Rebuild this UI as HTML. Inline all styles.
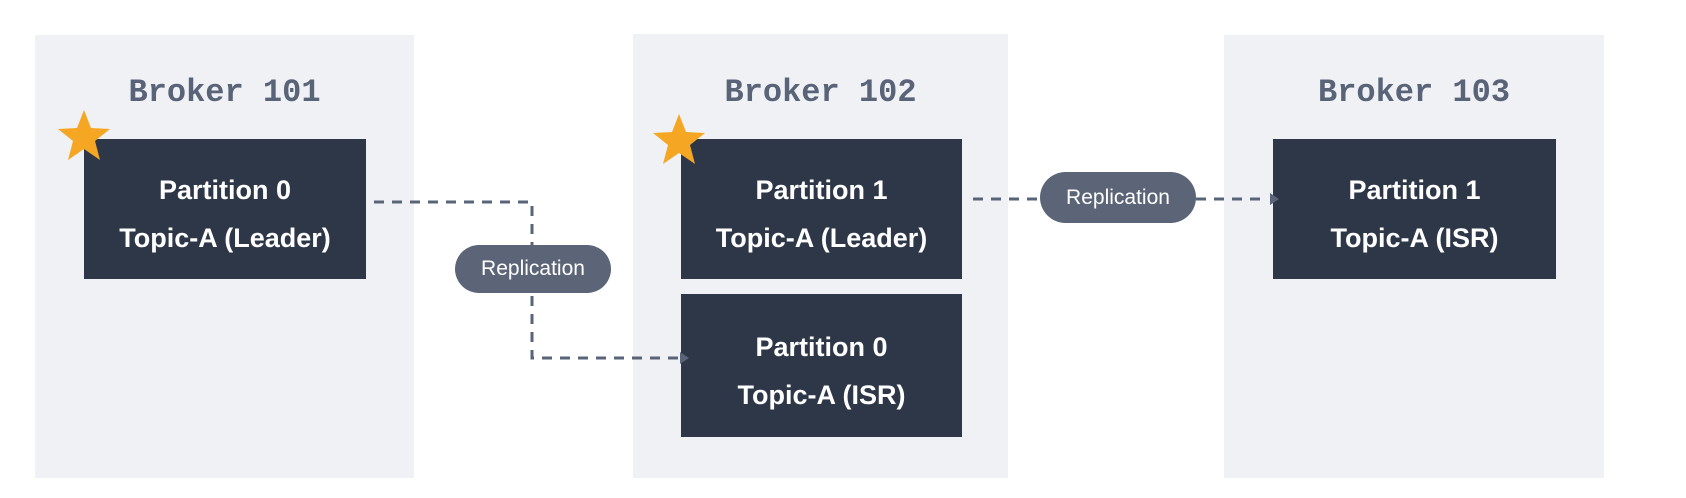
<!DOCTYPE html>
<html><head><style>
html,body{margin:0;padding:0;background:#fff;}
body{width:1686px;height:498px;position:relative;overflow:hidden;font-family:"Liberation Sans",sans-serif;}
.br{position:absolute;background:#f0f1f5;}
.t{position:absolute;font-family:"Liberation Mono",monospace;font-weight:bold;font-size:32px;color:#5a6478;text-align:center;}
.p{position:absolute;background:#2e3748;color:#fff;font-weight:bold;font-size:27px;text-align:center;line-height:48px;display:flex;flex-direction:column;justify-content:center;padding-top:10px;box-sizing:border-box;}
.pill{position:absolute;background:#5c6577;color:#fff;font-size:21px;border-radius:26px;display:flex;align-items:center;justify-content:center;}
</style></head><body>
<div class="br" style="left:35px;top:35px;width:379px;height:443px"></div>
<div class="br" style="left:633px;top:34px;width:375px;height:444px"></div>
<div class="br" style="left:1224px;top:35px;width:380px;height:443px"></div>
<div class="t" style="left:35px;top:74px;width:379px">Broker 101</div>
<div class="t" style="left:633px;top:74px;width:375px">Broker 102</div>
<div class="t" style="left:1224px;top:74px;width:380px">Broker 103</div>
<div class="p" style="left:84px;top:139px;width:282px;height:140px"><div>Partition 0</div><div>Topic-A (Leader)</div></div>
<div class="p" style="left:681px;top:139px;width:281px;height:140px"><div>Partition 1</div><div>Topic-A (Leader)</div></div>
<div class="p" style="left:681px;top:294px;width:281px;height:143px"><div>Partition 0</div><div>Topic-A (ISR)</div></div>
<div class="p" style="left:1273px;top:139px;width:283px;height:140px"><div>Partition 1</div><div>Topic-A (ISR)</div></div>
<svg style="position:absolute;left:0;top:0" width="1686" height="498">
<g stroke="#5a6478" stroke-width="3" fill="none" stroke-dasharray="10 8">
<path d="M374 202 H532 V358 H680"/>
<path d="M973 199 H1040"/>
<path d="M1196 199 H1268"/>
</g>
<polygon points="680,352 689,358 680,364" fill="#5a6478"/>
<polygon points="1270,193 1279,199 1270,205" fill="#5a6478"/>
<polygon fill="#f5a623" points="84,110 91,128 110,129 95,141 100,160 84,149 68,160 73,141 58,129 77,128"/>
<polygon fill="#f5a623" points="679,114 686,132 705,133 690,145 695,164 679,153 663,164 668,145 653,133 672,132"/>
</svg>
<div class="pill" style="left:455px;top:245px;width:156px;height:48px">Replication</div>
<div class="pill" style="left:1040px;top:172px;width:156px;height:51px">Replication</div>
</body></html>
